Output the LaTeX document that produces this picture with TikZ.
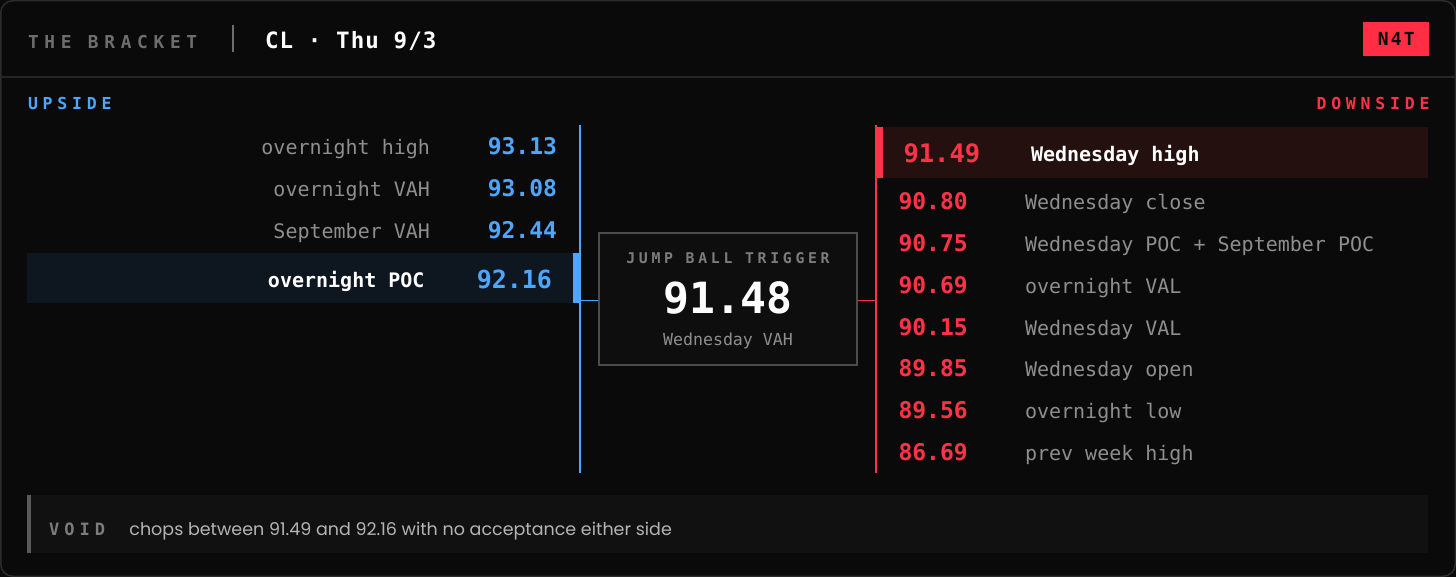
\documentclass[tikz,border=0pt]{standalone}
\usepackage{fontspec}
\setmainfont{DejaVu Sans Mono}
\newfontfamily\mono{DejaVu Sans Mono}
\newfontfamily\pop{Poppins}
\newcommand\fsz[1]{\fontsize{#1}{#1}\selectfont}
\newcommand\lsp[1]{\addfontfeature{LetterSpace=#1}}
\definecolor{bg}{HTML}{0A0A0A}
\definecolor{frame}{HTML}{2C2C2C}
\definecolor{sepc}{HTML}{262626}
\definecolor{hgray}{HTML}{6E6E6E}
\definecolor{tgray}{HTML}{7C7C7C}
\definecolor{lgray}{HTML}{8E8E8E}
\definecolor{upblue}{HTML}{4DA6FF}
\definecolor{dnred}{HTML}{FF3348}
\definecolor{badgered}{HTML}{FF2E44}
\definecolor{lhl}{HTML}{0E1620}
\definecolor{rhl}{HTML}{24100F}
\definecolor{boxline}{HTML}{4C4C4C}
\definecolor{boxbg}{HTML}{0E0E0E}
\definecolor{footbg}{HTML}{111111}
\definecolor{footbar}{HTML}{5A5A5A}
\definecolor{foottxt}{HTML}{B4B4B4}
\tikzset{
  txt/.style={inner sep=0pt, outer sep=0pt},
  lab/.style={txt, text=lgray, font=\mono\fsz{20}},
  labhi/.style={txt, text=white, font=\mono\bfseries\fsz{20}},
  upval/.style={txt, text=upblue, font=\mono\bfseries\fsz{23}},
  upvalhi/.style={txt, text=upblue, font=\mono\bfseries\fsz{25}},
  dnval/.style={txt, text=dnred, font=\mono\bfseries\fsz{23}},
  dnvalhi/.style={txt, text=dnred, font=\mono\bfseries\fsz{25.5}},
  sect/.style={txt, font=\mono\bfseries\fsz{16.5}},
  rail/.style={line width=2pt},
  link/.style={line width=1.5pt},
}
\begin{document}
\begin{tikzpicture}[x=1pt,y=-1pt]
\useasboundingbox (0,0) rectangle (1456,577);
\fill[bg] (0,0) rectangle (1456,577);
\draw[frame, line width=1.5pt, rounded corners=12pt] (0.75,0.75) rectangle (1455.25,576.25);
\draw[sepc, line width=1.5pt] (1.5,77) -- (1454.5,77);

% header
\node[txt, anchor=base west, text=hgray, font=\mono\bfseries\fsz{17.8}] (title) at (28,48.3) {\lsp{32}THE BRACKET};
\draw[hgray, line width=2pt] (233,25) -- (233,52);
\node[txt, anchor=base west, text=white, font=\mono\bfseries\fsz{22.5}] (sym) at (265,48.3) {\lsp{5}CL · Thu 9/3};
\node[txt, fill=badgered, minimum width=66pt, minimum height=34pt, text=bg, font=\mono\bfseries\fsz{18}] (badge) at (1396.2,39.2) {\lsp{12}N4T};

% section labels
\node[sect, anchor=base west, text=upblue] (up) at (28,109.3) {\lsp{29}UPSIDE};
\node[sect, anchor=base east, text=dnred] (dn) at (1429.5,109.3) {\lsp{29}DOWNSIDE};

% left highlight
\fill[lhl] (27,253) rectangle (574,303);
\fill[upblue] (573,253) rectangle (580,303);
% right highlight
\fill[rhl] (876,127) rectangle (1428,178);
\fill[dnred] (876,127) rectangle (883,178);

% rails
\coordinate (bt) at (580,125);
\coordinate (bb) at (580,473);
\coordinate (rt) at (876,125);
\coordinate (rb) at (876,473);
\draw[upblue, rail] (bt) -- (bb);
\draw[dnred, rail] (rt) -- (rb);

% upside rows
\node[lab, anchor=base east] (u1t) at (430,155) {overnight high};
\node[upval, anchor=base east] (u1v) at (557,155) {93.13};
\node[lab, anchor=base east] (u2t) at (430,197) {overnight VAH};
\node[upval, anchor=base east] (u2v) at (557,197) {93.08};
\node[lab, anchor=base east] (u3t) at (430,238.5) {September VAH};
\node[upval, anchor=base east] (u3v) at (557,238.5) {92.44};
\node[labhi, anchor=base east] (u4t) at (424.5,287.5) {overnight POC};
\node[upvalhi, anchor=base east] (u4v) at (552,288.5) {92.16};

% trigger box
\node[draw=boxline, fill=boxbg, line width=1.5pt, minimum width=258pt, minimum height=132pt, inner sep=0pt] (trig) at (728,299) {};
\node[txt, anchor=base, text=tgray, font=\mono\bfseries\fsz{14.8}] (trigt) at (728,264) {\lsp{25}JUMP BALL TRIGGER};
\node[txt, anchor=base, text=white, font=\mono\bfseries\fsz{43}] (trigv) at (728,313.3) {91.48};
\node[txt, anchor=base, text=lgray, font=\mono\fsz{16.6}] (trigs) at (728,345) {Wednesday VAH};

% connectors
\coordinate (bj) at (580,300.5);
\coordinate (rj) at (876,300.5);
\draw[upblue, link] (bj) -- (trig.west |- bj);
\draw[dnred, link] (trig.east |- rj) -- (rj);

% downside rows
\node[dnvalhi, anchor=base west] (d1v) at (903.5,162.5) {91.49};
\node[labhi, anchor=base west] (d1t) at (1031,161.7) {Wednesday high};
\node[dnval, anchor=base west] (d2v) at (898.5,210) {90.80};
\node[lab, anchor=base west] (d2t) at (1025,210) {Wednesday close};
\node[dnval, anchor=base west] (d3v) at (898.5,251.7) {90.75};
\node[lab, anchor=base west] (d3t) at (1025,251.7) {Wednesday POC + September POC};
\node[dnval, anchor=base west] (d4v) at (898.5,293.3) {90.69};
\node[lab, anchor=base west] (d4t) at (1025,293.3) {overnight VAL};
\node[dnval, anchor=base west] (d5v) at (898.5,335) {90.15};
\node[lab, anchor=base west] (d5t) at (1025,335) {Wednesday VAL};
\node[dnval, anchor=base west] (d6v) at (898.5,376.7) {89.85};
\node[lab, anchor=base west] (d6t) at (1025,376.7) {Wednesday open};
\node[dnval, anchor=base west] (d7v) at (898.5,418.3) {89.56};
\node[lab, anchor=base west] (d7t) at (1025,418.3) {overnight low};
\node[dnval, anchor=base west] (d8v) at (898.5,460) {86.69};
\node[lab, anchor=base west] (d8t) at (1025,460) {prev week high};

% footer
\fill[footbg] (28,495) rectangle (1428,553);
\fill[footbar] (27,495) rectangle (31,553);
\node[txt, anchor=base west, text=tgray, font=\mono\bfseries\fsz{17}] (void) at (49,535.5) {\lsp{30}VOID};
\node[txt, anchor=base west, text=foottxt, font=\pop\fsz{17.5}] (note) at (129.4,535.3) {chops between 91.49 and 92.16 with no acceptance either side};
\end{tikzpicture}
\end{document}
